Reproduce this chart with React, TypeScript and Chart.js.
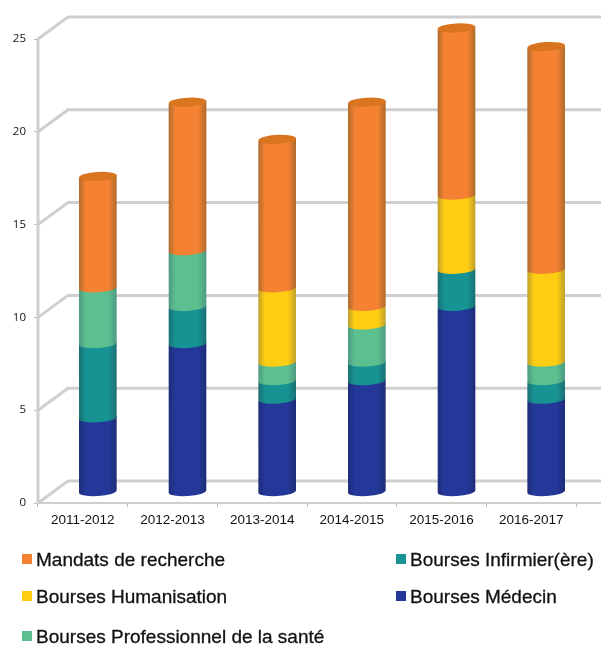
import React, { useEffect, useRef } from "react";
import { Chart, registerables } from "chart.js";

Chart.register(...registerables);

const categories = ["2011-2012", "2012-2013", "2013-2014", "2014-2015", "2015-2016", "2016-2017"];
const medecin = [4, 8, 5, 6, 10, 5];
const infirmier = [4, 2, 1, 1, 2, 1];
const professionnel = [3, 3, 1, 2, 0, 1];
const humanisation = [0, 0, 4, 1, 4, 5];
const mandats = [6, 8, 8, 11, 9, 12];
const yTicks = [0, 5, 10, 15, 20, 25];

const seriesNames = {
  mandats: "Mandats de recherche",
  infirmier: "Bourses Infirmier(ère)",
  humanisation: "Bourses Humanisation",
  medecin: "Bourses Médecin",
  professionnel: "Bourses Professionnel de la santé",
};
// main colour, edge colour, top colour
const colors = {
  mandats: ["#F58232", "#B06A2C", "#D9741F"],
  infirmier: ["#169392", "#1A7073", "#127F80"],
  humanisation: ["#FFCE12", "#BFA02A", "#E8B80F"],
  medecin: ["#24389A", "#1E2C78", "#1F3088"],
  professionnel: ["#5CBF90", "#4C9A80", "#52AE84"],
};
const legendRows = [
  { key: "mandats", x: 22, y: 560 },
  { key: "infirmier", x: 396, y: 560 },
  { key: "humanisation", x: 22, y: 597 },
  { key: "medecin", x: 396, y: 597 },
  { key: "professionnel", x: 22, y: 637 },
];

const DEPTH_X = 30;
const DEPTH_Y = 22;
const GRID = "#CFCFCF";

const wallPlugin = {
  id: "wall",
  beforeDatasetsDraw(chart: any) {
    const { ctx, scales, width } = chart;
    const y = scales.y;
    const x = scales.x;
    ctx.save();
    ctx.strokeStyle = GRID;
    ctx.lineWidth = 3;
    ctx.lineJoin = "miter";
    y.ticks.forEach((t: any) => {
      const py = y.getPixelForValue(t.value);
      ctx.beginPath();
      ctx.moveTo(x.left, py);
      ctx.lineTo(x.left + DEPTH_X, py - DEPTH_Y);
      ctx.lineTo(width, py - DEPTH_Y);
      ctx.stroke();
    });
    ctx.beginPath();
    ctx.moveTo(x.left, y.top - 1);
    ctx.lineTo(x.left, y.bottom + 1);
    ctx.stroke();
    ctx.lineWidth = 2;
    ctx.beginPath();
    ctx.moveTo(x.left, y.bottom);
    ctx.lineTo(width, y.bottom);
    ctx.stroke();
    ctx.restore();
  },
};

const cylinderPlugin = {
  id: "cylinder",
  beforeDatasetDraw() {
    return false;
  },
  afterDatasetsDraw(chart: any) {
    const { ctx } = chart;
    const dx = DEPTH_X / 2;
    const dy = DEPTH_Y / 2;
    const tilt = -0.06;
    const count = chart.data.labels.length;
    for (let i = 0; i < count; i++) {
      let lastDs = -1;
      chart.data.datasets.forEach((ds: any, d: number) => {
        if (ds.data[i] > 0) lastDs = d;
      });
      chart.data.datasets.forEach((ds: any, d: number) => {
        if (!(ds.data[i] > 0)) return;
        const el = chart.getDatasetMeta(d).data[i];
        const cx = el.x + dx;
        const top = el.y - dy;
        const bottom = el.base - dy;
        const rx = el.width / 2;
        const ry = 4.5;
        const [main, edge, cap] = ds.cylinderColors;
        const g = ctx.createLinearGradient(cx - rx, 0, cx + rx, 0);
        g.addColorStop(0, edge);
        g.addColorStop(0.18, main);
        g.addColorStop(0.78, main);
        g.addColorStop(1, edge);
        ctx.save();
        ctx.fillStyle = g;
        ctx.beginPath();
        ctx.moveTo(cx - rx, top + 1.5);
        ctx.lineTo(cx + rx, top - 1.5);
        ctx.lineTo(cx + rx, bottom - 1.5);
        ctx.ellipse(cx, bottom, rx, ry, tilt, 0, Math.PI, false);
        ctx.closePath();
        ctx.fill();
        if (d === lastDs) {
          ctx.beginPath();
          ctx.ellipse(cx, top, rx, ry, tilt, 0, Math.PI * 2);
          ctx.fillStyle = cap;
          ctx.fill();
        }
        ctx.restore();
      });
    }
  },
};

export default function App() {
  const ref = useRef<HTMLCanvasElement | null>(null);
  useEffect(() => {
    const make = (label: string, data: number[], c: string[]) => ({
      label,
      data,
      backgroundColor: c[0],
      cylinderColors: c,
      stack: "s",
    });
    const chart = new Chart(ref.current as HTMLCanvasElement, {
      type: "bar",
      data: {
        labels: categories,
        datasets: [
          make(seriesNames.medecin, medecin, colors.medecin),
          make(seriesNames.infirmier, infirmier, colors.infirmier),
          make(seriesNames.professionnel, professionnel, colors.professionnel),
          make(seriesNames.humanisation, humanisation, colors.humanisation),
          make(seriesNames.mandats, mandats, colors.mandats),
        ] as any,
      },
      plugins: [wallPlugin, cylinderPlugin],
      options: {
        animation: false,
        responsive: false,
        layout: { padding: { top: 39, bottom: 113, left: 0, right: 25 } },
        datasets: { bar: { barPercentage: 0.42, categoryPercentage: 1 } },
        plugins: { legend: { display: false }, tooltip: { enabled: false }, title: { display: false } },
        scales: {
          x: {
            stacked: true,
            border: { display: false },
            grid: { drawOnChartArea: false, color: "#BDBDBD", tickLength: 4, offset: true },
            ticks: { color: "#111", font: { family: "Liberation Sans", size: 13.5 }, padding: 5, maxRotation: 0 },
            afterFit: (s: any) => { s.height = 30; },
          },
          y: {
            stacked: true,
            min: 0,
            max: 25,
            border: { display: false },
            grid: { drawOnChartArea: false, color: "#BDBDBD", tickLength: 4 },
            afterBuildTicks: (s: any) => { s.ticks = yTicks.map((value) => ({ value })); },
            ticks: { color: "#111", font: { family: "Open Sans", size: 11.5 }, padding: 8 },
            afterFit: (s: any) => { s.width = 38; },
          },
        },
      } as any,
    });
    return () => chart.destroy();
  }, []);
  return (
    <div style={{ position: "absolute", left: 0, top: 0, width: 601, height: 646, overflow: "hidden", background: "#fff" }}>
      <canvas ref={ref} width={601} height={646} style={{ display: "block", width: 601, height: 646, filter: "blur(0.5px)" }} />
      {legendRows.map((r) => (
        <div key={r.key} style={{ position: "absolute", left: r.x, top: r.y - 12, height: 24, display: "flex", alignItems: "center", whiteSpace: "nowrap" }}>
          <span style={{ display: "inline-block", width: 10, height: 10, marginRight: 4, marginTop: -2, background: (colors as any)[r.key][0] }} />
          <span style={{ font: "19px 'Liberation Sans'", color: "#111", WebkitTextStroke: "0.3px #111" }}>{(seriesNames as any)[r.key]}</span>
        </div>
      ))}
    </div>
  );
}
